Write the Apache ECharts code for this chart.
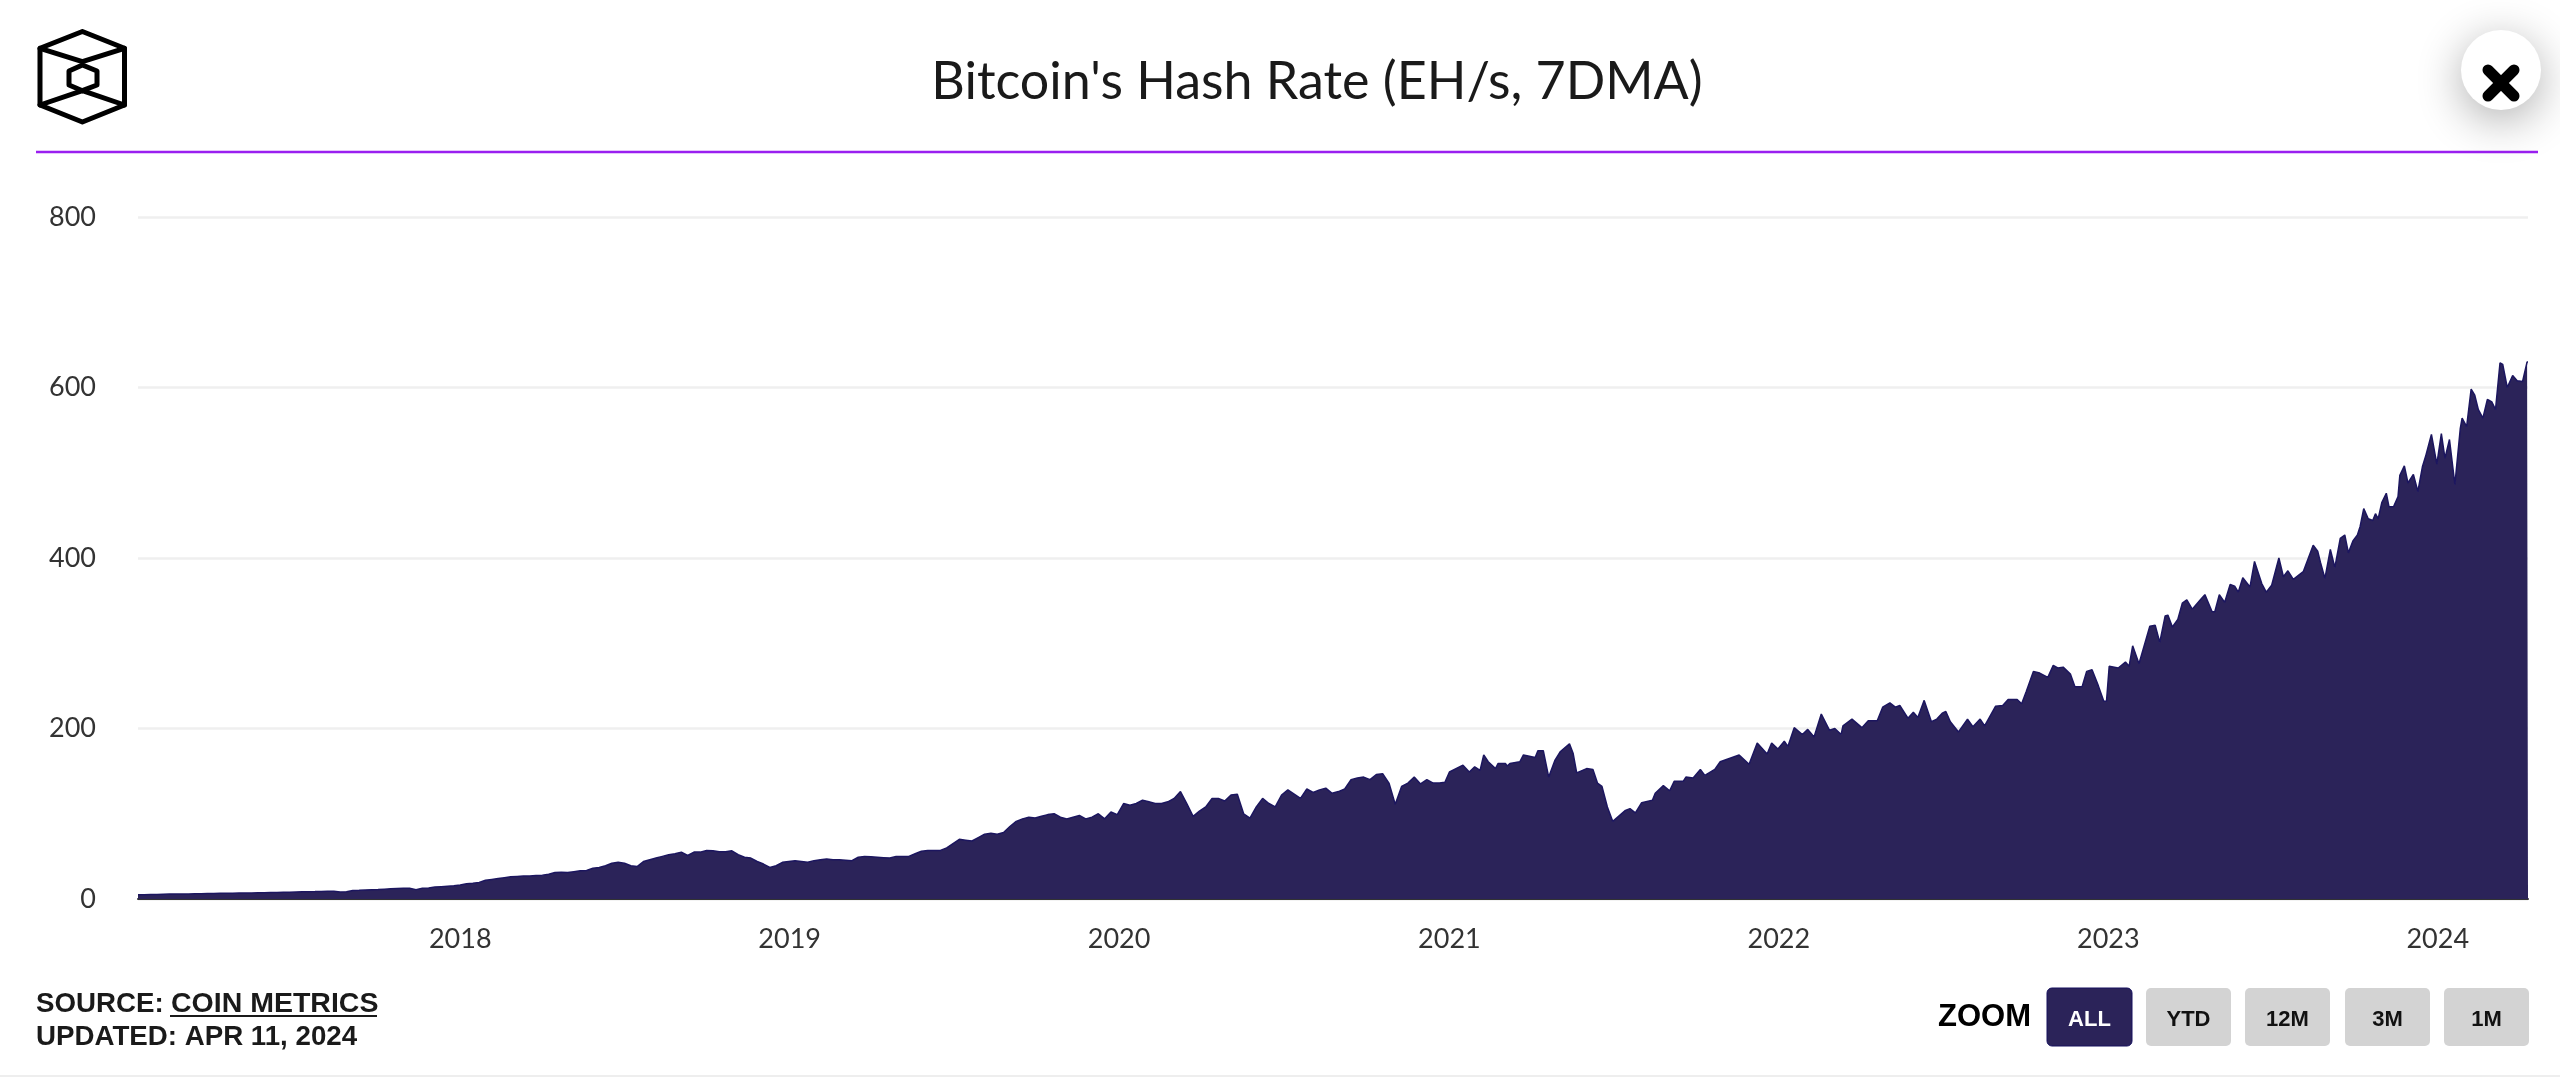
<!DOCTYPE html>
<html>
<head>
<meta charset="utf-8">
<title>Bitcoin's Hash Rate</title>
<style>html,body{margin:0;padding:0;background:#fff}#chart{width:2560px;height:1077px}</style>
<script src="https://cdn.jsdelivr.net/npm/echarts@6/dist/echarts.min.js"></script>
</head>
<body>
<div id="chart"></div>
<script>
const chartTitle = "Bitcoin's Hash Rate (EH/s, 7DMA)";
const yTicks = [0, 200, 400, 600, 800];
const yearTicks = [2018, 2019, 2020, 2021, 2022, 2023, 2024];
const zoomLabels = ['ALL', 'YTD', '12M', '3M', '1M'];
const startDay = Date.UTC(2017, 0, 9);

// weekly readings from the start of the series
const weeklyHashRate = [
5,5,5.2,5.4,5.6,5.8,5.9,6,6,6.2,
6.3,6.4,6.5,6.6,6.6,6.8,7,7,7.1,7.2,
7.3,7.5,7.6,7.8,8,8.2,8.4,8.6,8.7,8.9,
9,9.1,8.2,8.4,10,10.2,10.5,10.8,11,11.5,
12,12.3,12.6,12.5,11,12.5,13,14,14.5,15,
15.5,16.5,18,18.5,19.5,22,23,24,25,26,
26.5,27,27,27.5,28,29,31,31.5,31,32,
33,33.5,36,37,39,42,43,42,39,38,
44,46,48,50,52,53,55,51,55,55,
57,56.5,55.5,55.5,56.5,52,49,48,44,41,
37,39,43,44,45,44,43,45,46,47,
46,46,45.5,45,49,50,49.5,49,48.5,48,
50,50,50,53,56,57,57,57,60,65,
70,69,68,72,76,77,76,78,85,91,
94,96,95,97,99,100,96,94,96,98,
94,96,100,94,102,99,112,110,112,116,
114,112,112,114,118,126,112,97,103,108,
118,118,115,122,123,100,95,108,118,112,
108,122,128,123,118,129,125,128,130,124,
126,129,140,142,143,140,146,147,136,111,
132,136,143,135,140,136,136];

// finer readings, days since the start of the series
const detailDays = [
1448,1453,1468,1475,1481,1487,1491,1496,1504,1507,1515,1517,1520,1531,1535,1548,1551,1557,1563,1570,
1576,1586,1590,1594,1605,1612,1617,1622,1628,1634,1648,1653,1659,1666,1678,1681,1690,1697,1702,1712,
1715,1723,1731,1736,1747,1753,1774,1785,1794,1805,1810,1817,1824,1828,1835,1844,1850,1857,1865,1874,
1880,1887,1889,1899,1910,1917,1927,1933,1941,1947,1952,1961,1967,1972,1979,1987,1993,1999,2003,2008,
2017,2027,2033,2041,2046,2058,2066,2072,2082,2087,2092,2100,2107,2116,2122,2127,2133,2141,2146,2154,
2159,2165,2172,2178,2181,2184,2194,2202,2206,2210,2217,2229,2235,2240,2246,2249,2254,2260,2265,2270,
2276,2285,2290,2298,2301,2306,2312,2318,2323,2327,2332,2340,2345,2353,2358,2364,2372,2377,2382,2388,
2399,2410,2415,2418,2423,2429,2434,2440,2445,2449,2454,2459,2462,2466,2471,2476,2479,2482,2486,2491,
2494,2499,2504,2506,2511,2515,2521,2526,2531,2535,2541,2547,2552,2556,2561,2567,2573,2575,2580,2585,
2589,2593,2598,2603,2608,2612,2617,2620,2625,2631,2636,2642,2647,2648];
const detailHashRate = [
137,149,157,149,155,151,169,161,153,159,159,156,159,161,169,166,174,174,143,163,
173,182,171,148,153,152,136,132,108,91,104,106,101,113,116,124,133,127,138,138,
143,142,152,145,152,161,169,158,183,170,183,176,185,179,201,193,199,190,217,198,
200,193,203,211,201,209,209,225,230,225,227,212,219,213,233,208,211,218,220,208,
196,211,202,211,203,226,227,234,234,229,243,267,265,260,274,271,272,264,249,249,
267,269,250,232,232,273,271,278,273,297,276,320,321,301,332,333,319,328,347,351,
340,351,357,337,337,357,348,369,367,360,377,366,396,370,360,368,400,378,385,375,
384,415,408,395,376,410,389,423,427,406,420,427,437,458,446,444,452,446,465,476,
460,460,472,497,508,488,498,478,507,521,545,510,546,517,539,486,552,564,554,598,
591,574,564,586,583,574,629,627,600,614,608,607,630,630];

const DAY = 86400000;
const seriesData = weeklyHashRate.map((v, i) => [startDay + i * 7 * DAY, v])
  .concat(detailHashRate.map((v, i) => [startDay + detailDays[i] * DAY, v]));
const yearMs = yearTicks.map(y => Date.UTC(y, 0, 1));

const INK = '#2b2359', BODY = '"Liberation Sans", Arial, sans-serif';
const text = (x, y, t, size, extra) => ({
  type: 'text', x, y, silent: true,
  style: Object.assign({ text: t, fontFamily: BODY, fontWeight: 'bold', fontSize: size, fill: '#1a1a1a', verticalAlign: 'middle', align: 'left' }, extra || {})
});
const seg = pts => ({ type: 'polyline', silent: true, shape: { points: pts },
  style: { fill: 'none', stroke: '#000', lineWidth: 5, lineJoin: 'round', lineCap: 'round' } });

const buttonX = [2047, 2146, 2245, 2345, 2444];
const buttons = zoomLabels.flatMap((label, i) => [
  { type: 'rect', silent: true, shape: { x: buttonX[i], y: 988, width: 85, height: 58, r: 5 },
    style: i === 0 ? { fill: INK, stroke: '#16115f', lineWidth: 1 } : { fill: '#d3d3d3' } },
  text(buttonX[i] + 42.5, 1020, label, 22, { align: 'center', fill: i === 0 ? '#fff' : '#111' })
]);

const graphics = [
  // purple rule and footer rule
  { type: 'line', silent: true, shape: { x1: 36, y1: 152, x2: 2538, y2: 152 }, style: { stroke: '#9a1ff0', lineWidth: 2.5 } },
  { type: 'rect', silent: true, shape: { x: 0, y: 1075, width: 2560, height: 2 }, style: { fill: '#eeeeee' } },
  // logo
  seg([[82.4,31.5],[124.5,48.3],[124.5,105],[82.4,122],[40,105],[40,48.3],[82.4,31.5]]),
  seg([[40,48.3],[82.4,61.7],[124.5,48.3]]),
  seg([[40,105],[82.4,90.7],[124.5,105]]),
  seg([[82.4,65],[97,71],[97,85],[82.4,90.7],[69,85],[69,71],[82.4,65]]),
  // close button
  { type: 'circle', silent: true, shape: { cx: 2501, cy: 70, r: 40 },
    style: { fill: '#fff', shadowBlur: 45, shadowOffsetY: 10, shadowColor: 'rgba(0,0,0,0.32)' } },
  { type: 'line', silent: true, shape: { x1: 2488, y1: 70, x2: 2514, y2: 96 }, style: { stroke: '#000', lineWidth: 11, lineCap: 'round' } },
  { type: 'line', silent: true, shape: { x1: 2514, y1: 70, x2: 2488, y2: 96 }, style: { stroke: '#000', lineWidth: 11, lineCap: 'round' } },
  // footer
  text(36, 1004, 'SOURCE:', 27.7),
  text(171, 1004, 'COIN METRICS', 28.5),
  { type: 'line', silent: true, shape: { x1: 170, y1: 1016, x2: 377, y2: 1016 }, style: { stroke: '#1a1a1a', lineWidth: 2 } },
  text(36, 1037, 'UPDATED: APR 11, 2024', 27.7),
  text(1938, 1017, 'ZOOM', 31, { fill: '#000' })
].concat(buttons);

const chart = echarts.init(document.getElementById('chart'), null, { renderer: 'canvas', width: 2560, height: 1077 });
chart.setOption({
  animation: false,
  backgroundColor: '#fff',
  title: {
    text: chartTitle, left: 1312, top: 77, textAlign: 'center', textVerticalAlign: 'middle',
    textStyle: { fontFamily: 'Lato', fontWeight: 400, fontSize: 52, color: '#1a1a1a' }
  },
  grid: { left: 138, right: 32, top: 217, bottom: 178, containLabel: false },
  xAxis: {
    type: 'value', min: startDay, max: seriesData[seriesData.length - 1][0], scale: true,
    axisLine: { show: true, onZero: false, lineStyle: { color: '#333', width: 2 } },
    axisTick: { show: false },
    splitLine: { show: false },
    axisLabel: {
      customValues: yearMs, margin: 27, hideOverlap: false,
      fontFamily: 'Lato', fontSize: 27, color: '#333',
      formatter: v => String(new Date(v).getUTCFullYear())
    }
  },
  yAxis: {
    type: 'value', min: yTicks[0], max: yTicks[yTicks.length - 1], interval: 200,
    axisLine: { show: false }, axisTick: { show: false },
    splitLine: { lineStyle: { color: '#efefef', width: 2.5 } },
    axisLabel: { margin: 42, fontFamily: 'Lato', fontSize: 27, color: '#333' }
  },
  series: [{
    type: 'line', data: seriesData, showSymbol: false, silent: true,
    lineStyle: { color: '#1c165f', width: 1.5 }, areaStyle: { color: INK, opacity: 1 }
  }],
  graphic: { elements: graphics }
});
</script>
</body>
</html>
